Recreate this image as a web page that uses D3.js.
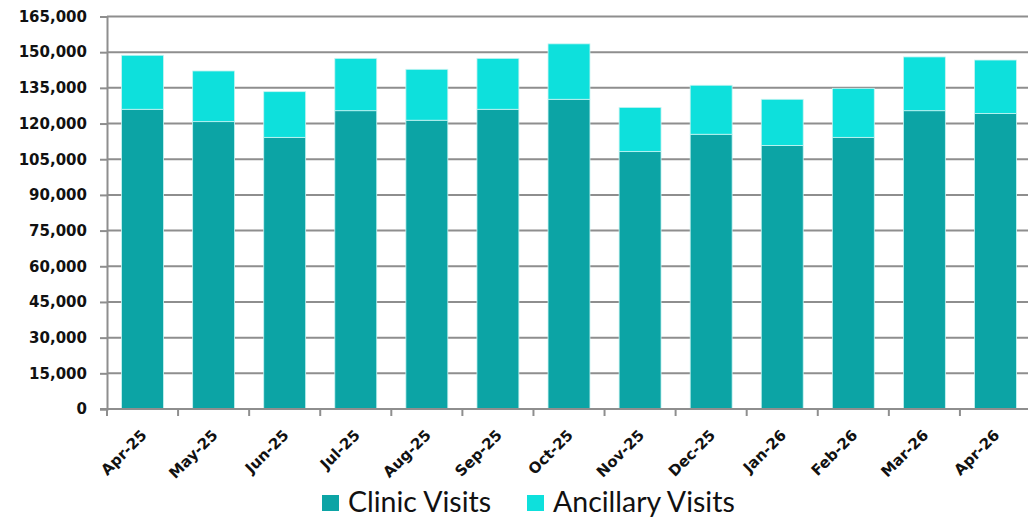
<!DOCTYPE html>
<html>
<head>
<meta charset="utf-8">
<script src="https://cdn.jsdelivr.net/npm/d3@7"></script>
<style>
  body { margin: 0; background: #fff; }
  svg { display: block; }
</style>
</head>
<body>
<script>
const WIDTH = 1028;
const HEIGHT = 519;
const CLINIC_COLOR = "#0ca4a5";
const ANCILLARY_COLOR = "#0ee0dc";
const GRID = "#8e8e8e";

const months = ["Apr-25", "May-25", "Jun-25", "Jul-25", "Aug-25", "Sep-25", "Oct-25",
                "Nov-25", "Dec-25", "Jan-26", "Feb-26", "Mar-26", "Apr-26"];
const clinicVisits = [126000, 120800, 114200, 125400, 121400, 126000, 130200,
                      108200, 115500, 110800, 114200, 125400, 124200];
const ancillaryVisits = [22700, 21300, 19200, 22000, 21400, 21400, 23300,
                         18600, 20600, 19400, 20600, 22600, 22500];
const yTicks = [0, 15000, 30000, 45000, 60000, 75000, 90000, 105000, 120000, 135000, 150000, 165000];
const seriesNames = ["Clinic Visits", "Ancillary Visits"];

const margin = { left: 107, top: 16.5, bottom: 110 };
const plotRight = 1031;

const rows = months.map((m, i) => ({ month: m, clinic: clinicVisits[i], ancillary: ancillaryVisits[i] }));
const stacked = d3.stack().keys(["clinic", "ancillary"])(rows);

const svg = d3.select("body").append("svg")
  .attr("width", WIDTH).attr("height", HEIGHT);

const x = d3.scaleBand()
  .domain(months)
  .range([margin.left, plotRight])
  .paddingInner(0.41)
  .paddingOuter(0.205);

const y = d3.scaleLinear()
  .domain([0, 165000])
  .range([HEIGHT - margin.bottom, margin.top]);

// gridlines
svg.append("g")
  .selectAll("line")
  .data(yTicks.filter(d => d > 0))
  .enter().append("line")
  .attr("x1", margin.left).attr("x2", plotRight)
  .attr("y1", d => y(d)).attr("y2", d => y(d))
  .attr("stroke", GRID).attr("stroke-width", 2);

// bars
const colors = [CLINIC_COLOR, ANCILLARY_COLOR];
svg.append("g")
  .selectAll("g")
  .data(stacked)
  .enter().append("g")
  .attr("fill", (d, i) => colors[i])
  .selectAll("rect")
  .data(d => d)
  .enter().append("rect")
  .attr("x", d => x(d.data.month))
  .attr("width", x.bandwidth())
  .attr("y", d => y(d[1]))
  .attr("height", d => y(d[0]) - y(d[1]))
  .attr("stroke", "#c8f4f2")
  .attr("stroke-width", 0.8);

// y axis
const yAxis = d3.axisLeft(y)
  .tickValues(yTicks)
  .tickFormat(d3.format(","))
  .tickSize(7)
  .tickPadding(13);

const gy = svg.append("g")
  .attr("transform", `translate(${margin.left},0)`)
  .call(yAxis);
gy.select(".domain").attr("stroke", GRID).attr("stroke-width", 2);
gy.selectAll(".tick line").attr("stroke", GRID).attr("stroke-width", 2);
gy.selectAll(".tick text")
  .attr("font-family", "DejaVu Sans, Verdana, sans-serif")
  .attr("font-weight", "bold")
  .attr("font-size", "15px")
  .attr("fill", "#111");

// x axis
const gx = svg.append("g")
  .attr("transform", `translate(0,${y(0)})`);
gx.append("line")
  .attr("x1", margin.left - 7).attr("x2", plotRight)
  .attr("stroke", GRID).attr("stroke-width", 2);
const step = x.step();
gx.selectAll("line.tk")
  .data(d3.range(months.length + 1))
  .enter().append("line")
  .attr("class", "tk")
  .attr("x1", i => margin.left + i * step)
  .attr("x2", i => margin.left + i * step)
  .attr("y1", 0).attr("y2", 7)
  .attr("stroke", GRID).attr("stroke-width", 2);
gx.selectAll("text")
  .data(months)
  .enter().append("text")
  .attr("transform", d => `translate(${x(d) + x.bandwidth() / 2 + 5},${27}) rotate(-45)`)
  .attr("text-anchor", "end")
  .attr("font-family", "DejaVu Sans, Verdana, sans-serif")
  .attr("font-weight", "bold")
  .attr("font-size", "15px")
  .attr("fill", "#111")
  .text(d => d);

// legend
const legendX = [322, 527];
const legend = svg.append("g");
seriesNames.forEach((name, i) => {
  legend.append("rect")
    .attr("x", legendX[i]).attr("y", 495)
    .attr("width", 17).attr("height", 16)
    .attr("fill", colors[i]);
  legend.append("text")
    .attr("x", legendX[i] + 26).attr("y", 512)
    .attr("font-family", "Lato, sans-serif")
    .attr("font-size", "28.5px")
    .attr("fill", "#111")
    .text(name);
});
</script>
</body>
</html>
